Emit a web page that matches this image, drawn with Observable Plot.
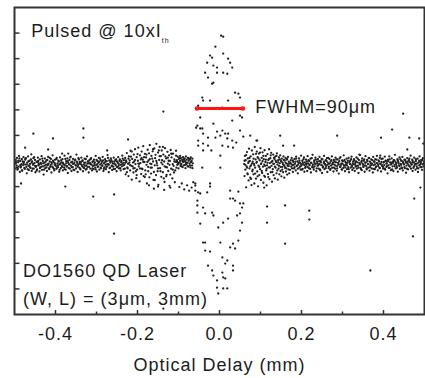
<!DOCTYPE html>
<html><head><meta charset="utf-8">
<script src="https://cdn.jsdelivr.net/npm/d3@7"></script>
<script src="https://cdn.jsdelivr.net/npm/@observablehq/plot@0.6"></script>
<style>
body{margin:0;background:#fff;}
#chart svg text{letter-spacing:1px;}
</style></head><body><div id="chart"></div>
<script>
// All scatter values as pairs: delay (µm), signal (×100, arbitrary units)
const leftBand = [
-499,590,-498,571,-497,604,-495,583,-494,612,-493,566,-491,595,-490,578,-489,620,-487,557,-486,600,-485,575,-483,588,-482,607,-481,562,-479,584,-478,615,-477,596,-475,569,-474,586,-473,609,-471,577,-470,552,-469,594,-467,618,-466,581,-465,564,-463,601,-462,589,-461,573,-459,626,-458,561,-457,598,-455,585,-454,611,-453,570,-451,592,-450,604,-449,556,-447,580,-446,597,-445,567,-443,613,-442,583,-441,591,-439,559,-438,606,-437,576,-435,588,-434,619,-433,565,-431,600,-430,579,-429,547,-427,594,-426,610,-425,572,-423,586,-422,603,-421,561,-419,583,-418,616,-417,590,-415,568,-414,598,-413,577,-411,608,-410,555,-409,589,-407,622,-406,574,-405,596,-403,563,-402,585,-401,605,-399,580,-398,569,-397,612,-395,591,-394,576,-393,601,-391,558,-390,587,-389,614,-387,572,-386,595,-385,582,-383,607,-382,563,-381,590,-379,575,-378,621,-377,584,-375,566,-374,599,-373,578,-371,610,-370,553,-369,593,-367,586,-366,604,-365,570,-363,617,-362,581,-361,561,-359,597,-358,576,-357,608,-355,589,-354,564,-353,602,-351,583,-350,571,-349,625,-347,592,-346,557,-345,584,-343,606,-342,574,-341,596,-339,567,-338,588,-337,613,-335,579,-334,600,-333,560,-331,586,-330,572,-329,609,-327,594,-326,566,-325,583,-323,618,-322,577,-321,598,-319,555,-318,590,-317,604,-315,570,-314,587,-313,611,-311,563,-310,596,-309,580,-307,568,-306,605,-305,589,-303,574,-302,620,-301,584,-299,559,-298,600,-297,577,-295,593,-294,612,-293,566,-291,586,-290,603,-289,572,-287,597,-286,581,-285,616,-283,561,-282,591,-281,575,-279,607,-278,585,-277,568,-275,599,-274,579,-273,623,-271,588,-270,556,-269,602,-267,574,-266,594,-265,610,-263,582,-262,565,-261,597,-259,578,-258,613,-257,590,-255,569,-254,604,-253,583,-251,560,-250,598,-249,576,-247,615,-246,589,-245,571,-243,606,-242,585,-241,563,-239,600,-238,579,-237,621,-235,592,-234,568,-233,603
];
const leftBand2 = [
-498,596,-496,593,-494,575,-492,569,-490,601,-488,610,-486,584,-484,579,-482,563,-480,598,-478,592,-476,573,-474,605,-472,611,-470,587,-468,568,-466,599,-464,583,-462,576,-460,606,-458,594,-456,570,-454,589,-452,615,-450,581,-448,577,-446,562,-444,596,-442,600,-440,586,-438,572,-436,593,-434,578,-432,609,-430,591,-428,566,-426,582,-424,597,-422,575,-420,604,-418,588,-416,571,-414,612,-412,584,-410,595,-408,578,-406,601,-404,569,-402,592,-400,587,-398,607,-396,574,-394,583,-392,598,-390,565,-388,590,-386,603,-384,577,-382,594,-380,586,-378,568,-376,608,-374,591,-372,580,-370,599,-368,573,-366,587,-364,614,-362,595,-360,576,-358,589,-356,566,-354,592,-352,605,-350,583,-348,597,-346,578,-344,611,-342,589,-340,570,-338,596,-336,584,-334,602,-332,575,-330,593,-328,581,-326,607,-324,569,-322,590,-320,598,-318,577,-316,593,-314,608,-312,586,-310,571,-308,599,-306,582,-304,595,-302,567,-300,604,-298,588,-296,579,-294,597,-292,610,-290,574,-288,591,-286,583,-284,602,-282,569,-280,594,-278,599,-276,577,-274,588,-272,612,-270,585,-268,572,-266,596,-264,603,-262,579,-260,590,-258,568,-256,598,-254,587,-252,606,-250,576,-248,593,-246,581,-244,600,-242,572,-240,595,-238,587,-236,609,-234,583
];
const leftShoulder = [
-231,570,-230,612,-229,548,-227,596,-226,631,-225,575,-223,589,-222,541,-221,618,-219,602,-218,563,-217,640,-215,581,-214,527,-213,608,-211,594,-210,555,-209,625,-207,572,-206,646,-205,588,-203,533,-202,615,-201,566,-199,601,-198,652,-197,579,-195,520,-194,622,-193,592,-191,549,-190,637,-189,570,-187,605,-186,658,-185,541,-183,596,-182,628,-181,563,-179,614,-178,585,-177,512,-175,644,-174,577,-173,602,-172,505,-171,536,-170,662,-169,590,-167,551,-166,620,-165,574,-163,638,-162,598,-161,526,-160,492,-159,649,-158,583,-157,611,-155,545,-154,667,-153,592,-151,560,-150,633,-150,500,-149,507,-147,604,-146,655,-145,572,-143,619,-142,538,-141,641,-139,587,-138,556,-137,625,-135,598,-135,487,-134,518,-133,650,-131,577,-130,610,-129,546,-127,636,-126,590,-125,561,-123,622,-122,503,-121,600,-119,643,-118,570,-117,614,-115,532,-114,588,-113,629,-111,555,-110,606,-109,517,-107,597,-106,640,-105,574,
-104,603,-103,585,-102,617,-101,592,-100,571,-99,608,-98,498,-97,595,-96,620,-95,580,-94,611,-93,589,-92,512,-91,604,-90,576,-89,615,-88,596,-87,583,-86,489,-85,610,-84,599,-83,572,-82,618,-81,587,-80,605,-79,505,-78,593,-77,612,-76,578,-75,601,-74,484,-73,590,-72,607,-71,575,-70,614,-69,596,-68,496,-67,582,-66,609,-65,591,-64,517
];
const leftShoulder2 = [
-232,585,-228,602,-224,571,-220,593,-216,617,-212,579,-208,598,-204,560,-200,627,-196,589,-192,606,-188,568,-184,615,-180,548,-176,596,-172,630,-168,574,-164,609,-160,557,-156,624,-152,583,-148,641,-144,560,-140,603,-136,532,-132,618,-128,575,-124,601,-120,547,-116,628,-112,581,-108,563,-104,596,-100,588,-96,601,-92,579,-88,606,-84,585,-80,594,-76,611,-72,583,-68,600,-66,572,
-230,593,-226,556,-222,609,-218,584,-214,637,-210,571,-206,604,-202,545,-198,590,-194,571,-190,612,-186,596,-182,537,-178,625,-174,560,-170,607,-166,588,-162,646,-158,525,-154,600,-150,571,-146,619,-142,594,-138,655,-134,579,-130,540,-126,613,-122,585,-118,629,-114,566,-110,598,-106,621,-102,595,-98,612,-94,587,-90,599,-86,605,-82,593,-78,580,-74,608,-70,596
];
const fringeUpper = [
4,1090,9,1086,-10,1047,9,1020,-23,1012,-18,1004,21,1000,26,984,-30,984,-15,973,-6,965,31,965,9,945,19,941,-35,945,-6,945,-28,926,-15,906,-18,902,38,867,46,863,-42,848,-40,836,-23,836,21,836,50,848,-52,816,7,809,50,777,55,770,31,758,-47,770,-54,738,-42,727,-15,746,50,719,-40,707,-28,691,-10,691,2,699,14,707,19,688,-52,680,-40,668,-28,660,7,660,21,656,33,652,2,621,-42,574,2,574,
-57,730,-47,727,-52,660,-40,641,-20,641,-6,715,7,719,21,707,31,680,41,672,58,695,75,699,90,680
];
const fringeLower = [
-59,512,-47,473,-59,484,-54,445,-54,426,-40,418,-35,395,-15,387,-47,355,-40,281,-35,281,-35,250,-23,246,-28,191,-18,172,-15,152,-6,133,9,145,-6,105,9,102,19,102,-3,82,26,484,26,453,38,445,50,434,55,418,50,395,43,387,55,359,21,375,9,359,-3,340,50,328,46,289,33,277,26,262,38,258,2,281,7,223,19,211,14,199,33,191,33,172,7,164,14,141,-23,512,-30,477,46,480,-54,398,-18,398,58,434,33,453,-59,504,-52,477,-23,500
];
const rightShoulder = [
60,588,61,541,62,620,63,566,64,603,65,497,66,579,67,635,68,552,69,610,70,592,71,524,72,648,73,571,74,600,75,535,76,618,77,583,78,506,79,641,80,560,81,597,82,626,83,548,84,589,85,512,86,655,87,574,88,606,89,531,90,593,91,637,92,559,93,615,94,501,95,582,96,629,97,545,98,603,99,568,100,650,101,526,102,591,103,612,104,553,105,634,106,578,107,515,108,607,109,586,110,642,111,538,112,596,113,620,114,563,115,505,116,583,117,627,118,549,119,604,120,575,121,646,122,529,123,592,124,611,125,556,126,632,127,581,128,519,129,600,130,568,131,625,132,545,133,589,134,608,135,532,136,617,137,574,138,596,139,552,140,630,141,586,142,527,143,603,144,570,145,614,146,548,147,591,148,622,149,561,150,599,151,540,152,609,153,577,154,593,155,556,156,618,157,584,158,535,159,602,160,573,161,612,162,559,163,590,164,605,165,547,166,581,167,616,168,567,169,597,170,552
];
const rightShoulder2 = [
61,601,63,585,65,623,67,574,69,548,71,597,73,612,75,579,77,530,79,590,81,566,83,609,85,583,87,551,89,628,91,596,93,540,95,610,97,577,99,633,101,588,103,561,105,599,107,620,109,542,111,581,113,605,115,570,117,593,119,537,121,608,123,575,125,622,127,596,129,557,131,589,133,612,135,578,137,601,139,620,141,563,143,595,145,581,147,606,149,577,151,598,153,566,155,587,157,604,159,579,161,594,163,571,165,608,167,588,169,580
];
const rightBand = [
171,590,172,565,174,603,175,578,176,612,178,584,179,557,180,596,182,571,183,608,184,589,186,563,187,617,188,580,190,598,191,552,192,586,194,610,195,574,196,593,198,566,199,621,200,582,202,601,203,569,204,588,206,614,207,558,208,595,210,577,211,605,212,585,214,561,215,619,216,591,218,572,219,600,220,583,222,609,223,555,224,594,226,576,227,624,228,587,230,566,231,602,232,579,234,613,235,590,236,560,238,597,239,581,240,607,242,570,243,588,244,616,246,563,247,599,248,584,250,553,251,606,252,575,254,592,255,620,256,568,258,585,259,603,260,579,262,611,263,557,264,594,266,572,267,589,268,608,270,565,271,598,272,582,274,618,275,574,276,591,278,559,279,604,280,586,282,570,283,613,284,595,286,562,287,580,288,606,290,588,291,551,292,599,294,577,295,615,296,584,298,567,299,602,300,590,302,573,303,622,304,581,306,560,307,596,308,585,310,609,311,568,312,593,314,576,315,612,316,556,318,589,319,601,320,574,322,617,323,583,324,565,326,598,327,587,328,607,330,561,331,592,332,578,334,614,335,570,336,595,338,582,339,553,340,604,342,589,343,623,344,573,346,596,347,564,348,610,350,585,351,577,352,601,354,558,355,593,356,619,358,580,359,567,360,604,362,588,363,574,364,611,366,562,367,597,368,583,370,606,371,571,372,590,374,555,375,616,376,584,378,598,379,568,380,607,382,579,383,592,384,620,386,563,387,586,388,602,390,574,391,612,392,589,394,559,395,596,396,581,398,609,399,570,400,594,402,584,403,617,404,566,406,600,407,577,408,591,410,552,411,605,412,583,414,618,415,573,416,595,418,564,419,588,420,610,422,579,423,597,424,561,426,603,427,585,428,624,430,571,431,592,432,580,434,607,435,558,436,596,438,583,439,614,440,569,442,589,443,601,444,575,446,616,447,563,448,593,450,586,451,605,452,572,454,598,455,554,456,582,458,611,459,590,460,567,462,603,463,579,464,596,466,621,467,570,468,587,470,605,471,561,472,594,474,578,475,613,476,584,478,566,479,600,480,589,482,572,483,609,484,557,486,595,487,583,488,618,490,576,491,591,492,604,494,565,495,587,496,611,498,579,499,596
];
const rightBand2 = [
173,594,175,588,177,571,179,602,181,585,183,576,185,597,187,609,189,582,191,570,193,593,195,601,197,579,199,588,201,566,203,595,205,607,207,584,209,573,211,590,213,598,215,577,217,603,219,586,221,569,223,592,225,611,227,580,229,574,231,596,233,588,235,605,237,571,239,590,241,583,243,599,245,567,247,594,249,608,251,582,253,576,255,597,257,589,259,572,261,600,263,585,265,612,267,578,269,591,271,569,273,603,275,587,277,595,279,574,281,598,283,582,285,606,287,571,289,593,291,586,293,610,295,577,297,590,299,566,301,599,303,584,305,604,307,575,309,592,311,583,313,601,315,568,317,596,319,587,321,607,323,578,325,591,327,572,329,602,331,585,333,598,335,580,337,609,339,574,341,593,343,586,345,568,347,601,349,590,351,578,353,606,355,583,357,595,359,571,361,599,363,588,365,612,367,576,369,592,371,584,373,603,375,569,377,597,379,587,381,575,383,605,385,591,387,580,389,598,391,572,393,589,395,608,397,584,399,577,401,596,403,570,405,601,407,590,409,581,411,599,413,573,415,606,417,586,419,594,421,567,423,592,425,603,427,579,429,597,431,588,433,574,435,602,437,591,439,580,441,607,443,585,445,572,447,598,449,589,451,576,453,604,455,593,457,570,459,597,461,584,463,609,465,578,467,592,469,586,471,600,473,573,475,595,477,588,479,607,481,579,483,591,485,571,487,601,489,585,491,596,493,576,495,603,497,589
];
const strays = [
-137,793,-332,727,-332,691,-454,707,-406,688,-223,684,-474,652,-418,645,-274,641,-369,629,-384,629,-376,500,-308,461,-257,469,-257,316,-137,23,-120,496,-484,512,
448,785,421,723,287,699,394,691,148,699,92,680,458,645,487,688,463,691,341,625,475,453,490,496,472,305,368,172,219,406,219,371,160,426,116,422,116,359,160,277,109,496,182,660,155,660,392,621,497,668
];

const fwhmLevel = 8.05;
const fwhmFrom = -0.055, fwhmTo = 0.057;
const xMajorTicks = [-0.4, -0.2, 0, 0.2, 0.4];
const xMinorTicks = [-0.3, -0.1, 0.1, 0.3];
const yTicks = [1, 2, 3, 4, 5, 6, 7, 8, 9, 10, 11];
const texts = ["Pulsed @ 10xI", "th", "FWHM=90\u03bcm", "DO1560 QD Laser", "(W, L) = (3\u03bcm, 3mm)"];
const xLabel = "Optical Delay (mm)";

function pairs(arr) {
  const out = [];
  for (let i = 0; i < arr.length; i += 2) out.push({x: arr[i] / 1000, y: arr[i + 1] / 100});
  return out;
}
const points = [leftBand, leftBand2, leftShoulder, leftShoulder2, fringeUpper, fringeLower,
  rightShoulder, rightShoulder2, rightBand, rightBand2, strays].flatMap(pairs);

const W = 425, H = 378, mL = 14, mR = 1, mT = 7, mB = 64;
const ink = "#1c1c1c";
const font = 18;

const chart = Plot.plot({
  width: W, height: H,
  marginLeft: mL, marginRight: mR, marginTop: mT, marginBottom: mB,
  x: {domain: [-0.5, 0.5]},
  y: {domain: [0, 12], axis: null},
  style: {fontFamily: "'Liberation Sans', Arial, Helvetica, sans-serif", background: "#fff", color: ink},
  marks: [
    Plot.dot(points, {x: "x", y: "y", r: 1.15, fill: "#202020", stroke: "none"}),
    Plot.ruleY([fwhmLevel], {x1: fwhmFrom, x2: fwhmTo, stroke: "#ff1414", strokeWidth: 3}),
    Plot.dot([fwhmFrom, fwhmTo], {x: d => d, y: () => fwhmLevel, r: 2.3, fill: "#ff1414"}),
    Plot.tickX(xMajorTicks, {x: d => d, insetTop: H - mT - mB - 4, stroke: "#333", strokeWidth: 1.5}),
    Plot.tickX(xMinorTicks, {x: d => d, insetTop: H - mT - mB - 2.5, stroke: "#333", strokeWidth: 1.5}),
    Plot.tickY(yTicks, {y: d => d, insetRight: W - mL - mR - 5.5, stroke: "#333", strokeWidth: 1.5}),
    Plot.frame({stroke: "#333", strokeWidth: 2}),
    Plot.axisX(xMajorTicks, {tickSize: 0, tickPadding: 13, fontSize: font, fill: ink, label: null, tickFormat: d => d.toFixed(1)}),
    Plot.text([xLabel], {text: d => d, frameAnchor: "bottom", dy: 56, lineAnchor: "bottom", fontSize: font, fill: ink}),
    Plot.text([texts[0]], {text: d => d, x: -0.459, y: 10.86, textAnchor: "start", lineAnchor: "bottom", fontSize: font, fill: ink}),
    Plot.text([texts[1]], {text: d => d, x: -0.141, y: 10.6, textAnchor: "start", lineAnchor: "bottom", fontSize: 7, fill: ink}),
    Plot.text([texts[2]], {text: d => d, x: 0.087, y: 7.89, textAnchor: "start", lineAnchor: "bottom", fontSize: font, fill: ink}),
    Plot.text([texts[3]], {text: d => d, x: -0.479, y: 1.45, textAnchor: "start", lineAnchor: "bottom", fontSize: font, fill: ink}),
    Plot.text([texts[4]], {text: d => d, x: -0.479, y: 0.39, textAnchor: "start", lineAnchor: "bottom", fontSize: font, fill: ink})
  ]
});
document.getElementById("chart").appendChild(chart);
</script></body></html>
